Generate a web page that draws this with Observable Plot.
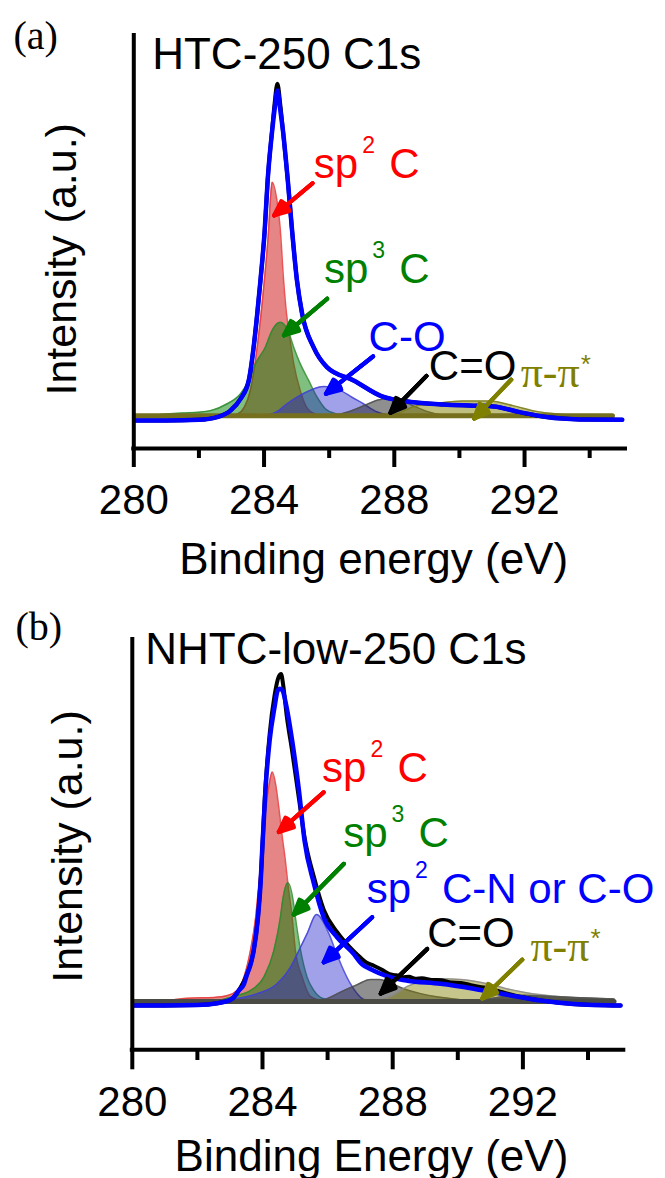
<!DOCTYPE html>
<html><head><meta charset="utf-8">
<script src="https://cdn.jsdelivr.net/npm/d3@7"></script>
<script src="https://cdn.jsdelivr.net/npm/@observablehq/plot@0.6"></script>
<style>
html,body{margin:0;padding:0;background:#fff;}
#chart{width:665px;display:flex;flex-direction:column;}
#chart svg{display:block;}
</style></head><body><div id="chart"></div>
<script>
const SANS = "'Liberation Sans', Arial, Helvetica, sans-serif";
const SERIF = "'Liberation Serif', 'Times New Roman', serif";

// ---------- shared axis data ----------
const energyDomain = [280, 295.1];
const xTicksMajor = [280, 284, 288, 292];
const xTicksMinor = [282, 286, 290, 294];
const xLabelA = "Binding energy (eV)";
const xLabelB = "Binding Energy (eV)";
const yLabel = "Intensity (a.u.)";
const titleA = "HTC-250 C1s";
const titleB = "NHTC-low-250 C1s";

// ---------- panel (a) HTC-250 : [binding energy (eV), intensity (a.u.)] ----------
const envA = [[280.05,-0.8],[281.0,-0.8],[282.0,-0.6],[282.56,0.1],[282.97,1.8],[283.28,4.9],[283.53,9.7],[283.68,18.4],[283.79,27.1],[283.89,35.9],[284.02,49.0],[284.11,62.0],[284.25,75.1],[284.32,80.4],[284.41,85.6],[284.50,80.4],[284.58,75.1],[284.73,62.0],[284.86,49.0],[285.01,35.9],[285.17,27.1],[285.52,18.4],[285.93,13.2],[286.75,9.7],[287.6,5.6],[288.59,4.0],[289.5,3.4],[290.42,3.1],[291.04,2.9],[291.85,1.4],[292.67,0.1],[293.69,-0.5],[295.0,-0.6]];
const rawA = [[280.05,-0.8],[281.0,-0.8],[282.0,-0.6],[282.56,0.1],[282.97,1.8],[283.28,4.9],[283.53,9.7],[283.68,18.4],[283.79,27.1],[283.89,35.9],[284.02,49.0],[284.11,62.0],[284.25,75.5],[284.32,81.8],[284.41,87.4],[284.50,81.8],[284.58,75.1],[284.73,62.0],[284.86,49.0],[285.01,35.9],[285.17,27.1],[285.52,18.4],[285.93,13.2],[286.75,9.7],[287.6,5.6],[288.59,4.0],[289.5,3.4],[290.42,3.1],[291.04,2.9],[291.85,1.4],[292.67,0.1],[293.69,-0.5],[295.0,-0.6]];
const sp2A = [[282.8,0.2],[283.2,1.0],[283.4,2.8],[283.58,7.1],[283.79,18.4],[284.01,35.9],[284.14,49.0],[284.20,57.7],[284.25,61.6],[284.38,57.7],[284.50,49.0],[284.60,35.9],[284.69,27.2],[284.76,22.8],[284.91,14.1],[285.11,7.1],[285.32,2.5],[285.6,0.8],[286.0,0.2]];
const sp3A = [[280.8,0.8],[281.5,1.2],[282.0,1.4],[282.36,1.8],[282.87,3.6],[283.28,6.2],[283.53,9.7],[283.74,14.1],[284.04,18.4],[284.25,22.8],[284.50,24.9],[284.73,22.8],[284.91,18.4],[285.11,14.1],[285.37,9.7],[285.63,5.3],[285.88,2.3],[286.2,1.0],[286.6,0.4],[287.0,0.1]];
const coA = [[283.8,0.1],[284.4,1.5],[284.71,3.6],[285.11,5.8],[285.42,7.1],[285.83,8.1],[286.34,7.1],[286.7,5.3],[287.05,3.6],[287.46,1.5],[287.9,0.5],[288.4,0.1]];
const cdoA = [[286.0,0.2],[286.6,1.5],[287.1,3.2],[287.5,4.6],[287.8,5.0],[288.2,4.4],[288.6,3.0],[289.0,1.6],[289.5,0.6],[290.0,0.2]];
const piA = [[287.8,0.2],[288.2,1.4],[288.6,2.9],[289.3,3.7],[290.1,4.3],[290.93,4.3],[291.65,3.1],[292.36,1.6],[293.18,0.8],[294.0,0.4],[294.7,0.3]];
const baseA = [[280.05,0.45],[294.7,0.45]];

// ---------- panel (b) NHTC-low-250 ----------
const envB = [[280.05,-0.6],[281.0,-0.6],[282.0,-0.5],[282.61,0.0],[283.02,0.9],[283.12,1.6],[283.27,3.3],[283.43,5.0],[283.53,7.7],[283.63,10.0],[283.73,13.8],[283.86,22.5],[283.94,31.3],[283.99,40.0],[284.09,55.7],[284.22,68.8],[284.37,77.5],[284.47,81.9],[284.53,82.3],[284.61,81.9],[284.74,77.5],[284.91,68.8],[285.12,55.7],[285.29,42.6],[285.58,31.3],[285.88,22.5],[286.3,17.2],[286.8,12.9],[287.01,10.6],[287.42,8.5],[288.24,6.2],[288.45,5.9],[289.47,5.1],[290.49,3.8],[291.52,2.2],[292.54,0.7],[293.56,-0.2],[295.0,-0.6]];
const rawB = [[280.05,-0.6],[281.0,-0.6],[282.0,-0.5],[282.61,0.0],[283.02,0.9],[283.27,3.3],[283.53,7.7],[283.73,13.8],[283.86,22.5],[283.94,31.8],[284.09,56.5],[284.22,70.5],[284.37,80.5],[284.5,85.5],[284.57,86.2],[284.64,83.0],[284.74,75.5],[284.91,66.0],[285.12,53.5],[285.29,43.5],[285.58,33.0],[285.88,24.5],[286.3,18.5],[286.8,13.6],[287.0,12.0],[287.2,10.6],[287.42,9.8],[287.7,8.6],[287.9,7.6],[288.1,7.3],[288.3,6.8],[288.5,6.9],[288.7,6.4],[288.9,6.5],[289.2,6.1],[289.5,6.0],[289.8,5.4],[290.1,5.3],[290.4,4.7],[290.8,4.1],[291.3,3.0],[291.8,1.9],[292.5,0.8],[293.5,-0.2],[295.0,-0.6]];
const sp2B = [[281.0,0.6],[281.7,1.3],[282.5,1.5],[282.92,2.0],[283.22,3.3],[283.43,6.8],[283.63,13.8],[283.79,22.5],[283.89,31.3],[283.99,40.0],[284.09,50.0],[284.2,57.0],[284.30,60.5],[284.40,57.5],[284.50,51.3],[284.60,44.0],[284.70,37.5],[284.78,31.3],[284.91,22.5],[285.01,13.8],[285.22,6.8],[285.47,1.8],[285.9,0.5],[286.4,0.1]];
const sp3B = [[282.5,0.4],[283.22,2.0],[283.63,3.3],[284.04,6.8],[284.35,13.8],[284.55,22.5],[284.62,26.9],[284.78,31.5],[284.94,26.9],[285.01,22.5],[285.17,13.8],[285.37,6.8],[285.58,3.3],[285.78,1.5],[286.2,0.5],[286.8,0.1]];
const cnB = [[283.1,1.0],[283.84,2.5],[284.45,5.1],[284.86,9.4],[285.12,13.8],[285.37,18.2],[285.66,23.2],[286.04,18.2],[286.24,13.8],[286.45,9.4],[286.70,5.1],[286.91,2.5],[287.11,1.0],[287.5,0.3]];
const cdoB = [[285.5,0.4],[285.99,1.2],[286.4,2.9],[286.9,4.8],[287.32,6.2],[287.6,6.2],[288.0,5.0],[288.34,3.8],[288.86,2.5],[289.4,1.6],[290.0,1.0],[291.0,0.5],[292.0,0.2]];
const piB = [[287.5,0.3],[288.0,2.0],[288.45,4.4],[289.0,5.9],[289.5,6.4],[290.1,6.2],[290.8,5.3],[291.5,3.8],[292.2,2.6],[292.9,1.9],[293.6,1.5],[294.4,1.2],[294.8,1.1]];
const tailB = [[290.6,0.5],[291.3,1.6],[292.0,2.1],[292.6,1.9],[293.5,1.5],[294.8,1.1]];
const baseB = [[280.05,0.45],[294.8,0.45]];

// ---------- annotations (anchor in eV / a.u.) ----------
const labelsA = [
  {key:"sp2", x:285.53, y:62.6, text:"sp", sup:"2", rest:"C"},
  {key:"sp3", x:285.84, y:35.1, text:"sp", sup:"3", rest:"C"},
  {key:"co",  x:287.21, y:17.4, text:"C-O"},
  {key:"cdo", x:289.06, y:9.9,  text:"C=O"},
  {key:"pi",  x:291.88, y:8.1,  text:"π-π", sup:"*"}
];
const labelsB = [
  {key:"sp2", x:285.83, y:58.0, text:"sp", sup:"2", rest:"C"},
  {key:"sp3", x:286.48, y:40.8, text:"sp", sup:"3", rest:"C"},
  {key:"co",  x:287.20, y:26.1, text:"sp", sup:"2", rest:"C-N or C-O"},
  {key:"cdo", x:289.06, y:14.7, text:"C=O"},
  {key:"pi",  x:292.23, y:11.05, text:"π-π", sup:"*"}
];
const arrowsA = [
  {key:"sp2", x1:285.49, y1:61.3, x2:284.31, y2:52.9},
  {key:"sp3", x1:285.94, y1:31.1, x2:284.61, y2:21.5},
  {key:"co",  x1:287.35, y1:16.0, x2:285.90, y2:6.2},
  {key:"cdo", x1:288.99, y1:10.9, x2:287.88, y2:1.2},
  {key:"pi",  x1:291.59, y1:9.9,  x2:290.45, y2:-0.3}
];
const arrowsB = [
  {key:"sp2", x1:285.88, y1:55.2, x2:284.50, y2:44.8},
  {key:"sp3", x1:286.50, y1:36.5, x2:284.96, y2:23.2},
  {key:"co",  x1:287.37, y1:22.5, x2:285.88, y2:10.7},
  {key:"cdo", x1:289.06, y1:14.2, x2:287.63, y2:2.5},
  {key:"pi",  x1:291.98, y1:11.4, x2:290.75, y2:1.2}
];

// ---------- styles ----------
const textColor = {sp2:"#ff0000", sp3:"#008000", co:"#0000ff", cdo:"#000000", pi:"#808000"};
const ctx = document.createElement("canvas").getContext("2d");
function textWidth(s, size, family){ ctx.font = size + "px " + family; return ctx.measureText(s).width; }
const X = d => d[0], Y = d => d[1];

function comp(data, fill, fillOpacity, stroke){
  return [
    Plot.areaY(data, {x: X, y: Y, fill, fillOpacity, curve: "monotone-x"}),
    Plot.lineY(data, {x: X, y: Y, stroke, strokeWidth: 1.5, strokeOpacity: 0.85, curve: "monotone-x"})
  ];
}

function panel(p){
  const marks = [];
  for (const c of p.components) marks.push(...comp(c.data, c.fill, c.opacity, c.stroke));
  marks.push(Plot.lineY(p.base, {x: X, y: Y, stroke: p.baseColor, strokeWidth: 5}));
  marks.push(Plot.lineY(p.raw, {x: X, y: Y, stroke: "#000", strokeWidth: 4, curve: "monotone-x", strokeLinejoin: "round"}));
  marks.push(Plot.lineY(p.env, {x: X, y: Y, stroke: "#0000ff", strokeWidth: 4.5, curve: "monotone-x", strokeLinejoin: "round"}));
  marks.push(Plot.ruleX([energyDomain[0]], {stroke: "#000", strokeWidth: 4, strokeLinecap: "square"}));
  marks.push(Plot.ruleY([p.yDomain[0]], {stroke: "#000", strokeWidth: 4, strokeLinecap: "square"}));
  marks.push(Plot.axisX(xTicksMajor, {tickSize: p.tickMajor, tickPadding: p.tickPad, strokeWidth: 4, fontSize: 42, tickFormat: d => String(d), label: null}));
  marks.push(Plot.axisX(xTicksMinor, {tickSize: p.tickMinor, strokeWidth: 4, tickFormat: () => "", label: null}));
  for (const a of p.arrows) {
    for (const ang of [48, 36, 24, 12]) {
      marks.push(Plot.arrow([a], {x1: "x1", y1: "y1", x2: "x2", y2: "y2", stroke: textColor[a.key], strokeWidth: 4, headAngle: ang, headLength: 6}));
    }
  }
  for (const L of p.labels) {
    const fam = L.key === "pi" ? SERIF : SANS;
    const fs = L.key === "pi" ? 44 : 42;
    const w = textWidth(L.text, fs, fam);
    marks.push(Plot.text([L], {x: "x", y: "y", text: "text", fill: textColor[L.key], fontSize: fs, fontFamily: fam, textAnchor: "start", lineAnchor: "bottom"}));
    if (L.sup) {
      const isStar = L.sup === "*";
      marks.push(Plot.text([L], {x: "x", y: "y", text: "sup", fill: textColor[L.key], fontSize: isStar ? 26 : 23, fontFamily: SANS, textAnchor: "start", lineAnchor: "bottom", dx: w + (isStar ? 1 : 4), dy: isStar ? -14 : -25}));
    }
    if (L.rest) {
      marks.push(Plot.text([L], {x: "x", y: "y", text: "rest", fill: textColor[L.key], fontSize: 42, fontFamily: SANS, textAnchor: "start", lineAnchor: "bottom", dx: w + 31}));
    }
  }
  marks.push(Plot.text([p.title], {frameAnchor: "top-left", dx: p.titleDx, dy: p.titleDy, textAnchor: "start", lineAnchor: "bottom", fontSize: 44, fontFamily: SANS, fill: "#000"}));
  marks.push(Plot.text([p.tag], {frameAnchor: "top-left", dx: p.tagDx, dy: p.tagDy, textAnchor: "start", lineAnchor: "bottom", fontSize: 40, fontFamily: SERIF, fill: "#000"}));
  marks.push(Plot.text([yLabel], {frameAnchor: "left", rotate: -90, dx: p.yLabDx, dy: p.yLabDy, textAnchor: "middle", lineAnchor: "bottom", fontSize: 43, fontFamily: SANS, fill: "#000"}));
  marks.push(Plot.text([p.xLabel], {frameAnchor: "bottom", dx: p.xLabDx, dy: p.xLabDy, textAnchor: "middle", lineAnchor: "bottom", fontSize: 44, fontFamily: SANS, fill: "#000"}));

  return Plot.plot({
    width: 665, height: p.height,
    marginTop: p.mt, marginBottom: p.mb, marginLeft: p.ml, marginRight: p.mr,
    x: {domain: energyDomain},
    y: {domain: p.yDomain, axis: null},
    style: {background: "#fff", fontFamily: SANS, overflow: "visible"},
    marks
  });
}

const chart = document.getElementById("chart");
chart.append(panel({
  height: 590, mt: 35, mb: 142, ml: 133.3, mr: 40,
  yDomain: [-8.12, 100],
  components: [
    {data: sp2A, fill: "#d02020", opacity: 0.55, stroke: "#e83a3a"},
    {data: sp3A, fill: "#008000", opacity: 0.5, stroke: "#2e8b2e"},
    {data: coA,  fill: "#2020cc", opacity: 0.42, stroke: "#4040d8"},
    {data: cdoA, fill: "#202020", opacity: 0.5, stroke: "#505050"},
    {data: piA,  fill: "#808000", opacity: 0.5, stroke: "#7a7a18"}
  ],
  base: baseA, baseColor: "#76701e", raw: rawA, env: envA,
  tickMajor: 19, tickMinor: 10, tickPad: 17,
  arrows: arrowsA, labels: labelsA,
  title: titleA, titleDx: 18.4, titleDy: 33.3,
  tag: "(a)", tagDx: -120.3, tagDy: 13,
  yLabDx: -58.3, yLabDy: 17.3,
  xLabel: xLabelA, xLabDx: -6, xLabDy: 125
}));
chart.append(panel({
  height: 588, mt: 49, mb: 128.7, ml: 131.8, mr: 41.7,
  yDomain: [-12.2, 95.2],
  components: [
    {data: sp2B, fill: "#d02020", opacity: 0.55, stroke: "#e83a3a"},
    {data: sp3B, fill: "#008000", opacity: 0.5, stroke: "#2e8b2e"},
    {data: cnB,  fill: "#2020cc", opacity: 0.42, stroke: "#4040d8"},
    {data: cdoB, fill: "#202020", opacity: 0.5, stroke: "#505050"},
    {data: piB,  fill: "#808000", opacity: 0.45, stroke: "#8a8a8a"},
    {data: tailB, fill: "#3c3c38", opacity: 0.8, stroke: "#555555"}
  ],
  base: baseB, baseColor: "#4b4b46", raw: rawB, env: envB,
  tickMajor: 20, tickMinor: 10.7, tickPad: 16.7,
  arrows: arrowsB, labels: labelsB,
  title: titleB, titleDx: 12.9, titleDy: 24.4,
  tag: "(b)", tagDx: -116.8, tagDy: 0.5,
  yLabDx: -50.8, yLabDy: 1.8,
  xLabel: xLabelB, xLabDx: -6.6, xLabDy: 120.7
}));
</script></body></html>
